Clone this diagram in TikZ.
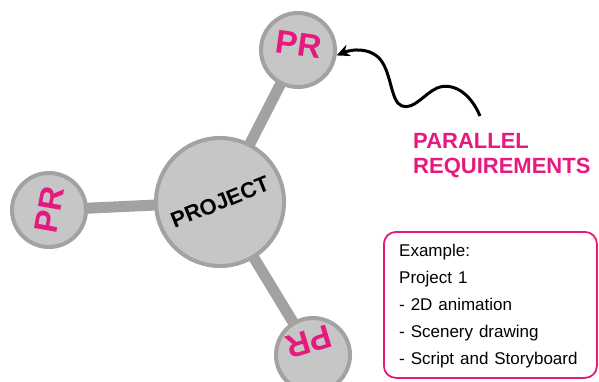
\documentclass[tikz,border=0pt]{standalone}
\usepackage{fontspec}
\setmainfont{Liberation Sans}
\newfontfamily\boxfont[WordSpace=1.25]{Liberation Sans}
\usetikzlibrary{arrows.meta,backgrounds}
\definecolor{hubgray}{HTML}{C6C6C6}
\definecolor{rimgray}{HTML}{A2A2A2}
\definecolor{magentapink}{HTML}{E5197E}
\tikzset{
  hub/.style={circle, fill=hubgray, draw=rimgray, line width=4pt, minimum size=128pt, inner sep=0pt,
    text=black, font=\fontsize{22}{22}\selectfont\bfseries},
  sat/.style={circle, fill=hubgray, draw=rimgray, line width=4pt, minimum size=74pt, inner sep=0pt,
    text=magentapink, font=\fontsize{33}{33}\selectfont\bfseries, text height=24pt},
  spoke/.style={draw=rimgray, line width=11pt},
  calltext/.style={text=magentapink, font=\fontsize{22}{22}\selectfont\bfseries, inner sep=0pt, anchor=base west},
  exbox/.style={draw=magentapink, line width=1.8pt, rounded corners=12pt, minimum width=213pt, minimum height=146pt, inner sep=0pt, anchor=north west},
  extext/.style={text=black, font=\boxfont\fontsize{17}{17}\selectfont, inner sep=0pt, anchor=base west},
  pointer/.style={draw=black, line width=3pt, -{Stealth[length=13pt,width=12pt]}}
}
\begin{document}
\begin{tikzpicture}[x=1pt,y=-1pt]
  \useasboundingbox (0,0) rectangle (599,381);

  % hub and satellite circles with their labels
  \node[hub, rotate=22] (proj) at (220,202) {PROJECT};
  \node[sat, rotate=-8, text depth=12pt] (prtop) at (298,50) {PR};
  \node[sat, rotate=80, text depth=0pt] (prleft) at (49,210) {PR};
  \node[sat, rotate=197, text height=50pt, text depth=0pt] (prbot) at (313,355) {PR};

  % spokes behind the circles
  \begin{pgfonlayer}{background}
    \draw[spoke] (proj.center) -- (prtop.center);
    \draw[spoke] (proj.center) -- (prleft.center);
    \draw[spoke] (proj.center) -- (prbot.center);
  \end{pgfonlayer}

  % callout text and wavy pointer
  \node[calltext] (par1) at (413,148) {PARALLEL};
  \node[calltext] (par2) at (413,173) {REQUIREMENTS};
  \coordinate (wavestart) at (480,116);
  \draw[pointer] (wavestart)
    .. controls (470,92) and (452,82) .. (437,88)
    .. controls (424,94) and (414,110) .. (402,106)
    .. controls (390,102) and (392,70) .. (378,57)
    .. controls (368,48) and (352,49) .. (prtop.east);

  % example box
  \node[exbox] (ex) at (383,231) {};
  \node[extext] (ex1) at (399,256) {Example:};
  \node[extext] (ex2) at (399,283) {Project 1};
  \node[extext] (ex3) at (399,310) {- 2D animation};
  \node[extext] (ex4) at (399,337) {- Scenery drawing};
  \node[extext] (ex5) at (399,364) {- Script and Storyboard};
\end{tikzpicture}
\end{document}
